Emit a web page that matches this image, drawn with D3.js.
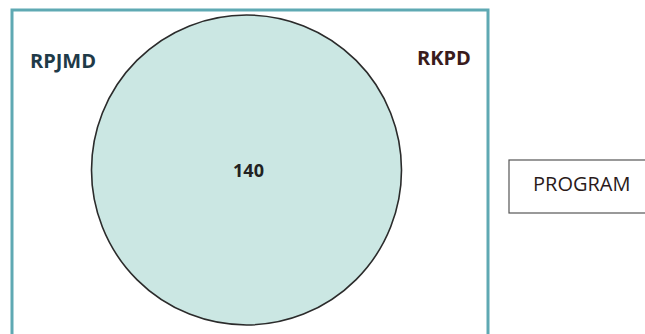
<!DOCTYPE html>
<html>
<head>
<meta charset="utf-8">
<script src="https://cdn.jsdelivr.net/npm/d3@7"></script>
<style>
  body { margin: 0; background: #fff; }
</style>
</head>
<body>
<svg id="chart" width="645" height="334"></svg>
<script>
// set names (both docs share the same programs -> one full circle)
var setNames = ["RPJMD", "RKPD"]
var overlapValues = [140]
var legendLabels = ["PROGRAM"]

var svg = d3.select("#chart")

// radius from value
var r = d3.scaleSqrt().domain([0, d3.max(overlapValues)]).range([0, 155])

// outer frame
svg.append("rect")
  .attr("x", 12).attr("y", 10)
  .attr("width", 476).attr("height", 330)
  .attr("fill", "#fff")
  .attr("stroke", "#5fa9b3")
  .attr("stroke-width", 3)

svg.append("circle")
  .attr("cx", 246.5).attr("cy", 170)
  .attr("r", r(overlapValues[0]))
  .attr("fill", "#cbe7e3")
  .attr("stroke", "#2b2b2b")
  .attr("stroke-width", 1.6)

svg.append("text")
  .attr("x", 248.5).attr("y", 177)
  .attr("text-anchor", "middle")
  .attr("font-family", "Open Sans, sans-serif")
  .attr("font-weight", "bold")
  .attr("font-size", 18)
  .attr("fill", "#222")
  .text(overlapValues[0])

var labelPos = [[63, 68, "#1f3a48"], [444, 65, "#3a1c1c"]]
svg.selectAll(".setLabel")
  .data(setNames)
  .enter().append("text")
  .attr("class", "setLabel")
  .attr("x", function(d, i){ return labelPos[i][0] })
  .attr("y", function(d, i){ return labelPos[i][1] })
  .attr("text-anchor", "middle")
  .attr("font-family", "Open Sans, sans-serif")
  .attr("font-weight", "bold")
  .attr("font-size", 20)
  .attr("fill", function(d, i){ return labelPos[i][2] })
  .text(function(d){ return d })

// legend box on the right
var lg = svg.append("g")
lg.append("rect")
  .attr("x", 509).attr("y", 160)
  .attr("width", 150).attr("height", 53)
  .attr("fill", "#fff")
  .attr("stroke", "#555")
  .attr("stroke-width", 1.2)
lg.append("text")
  .attr("x", 533).attr("y", 191)
  .attr("font-family", "Open Sans, sans-serif")
  .attr("font-size", 20)
  .attr("fill", "#2a1a1a")
  .text(legendLabels[0])
</script>
</body>
</html>
